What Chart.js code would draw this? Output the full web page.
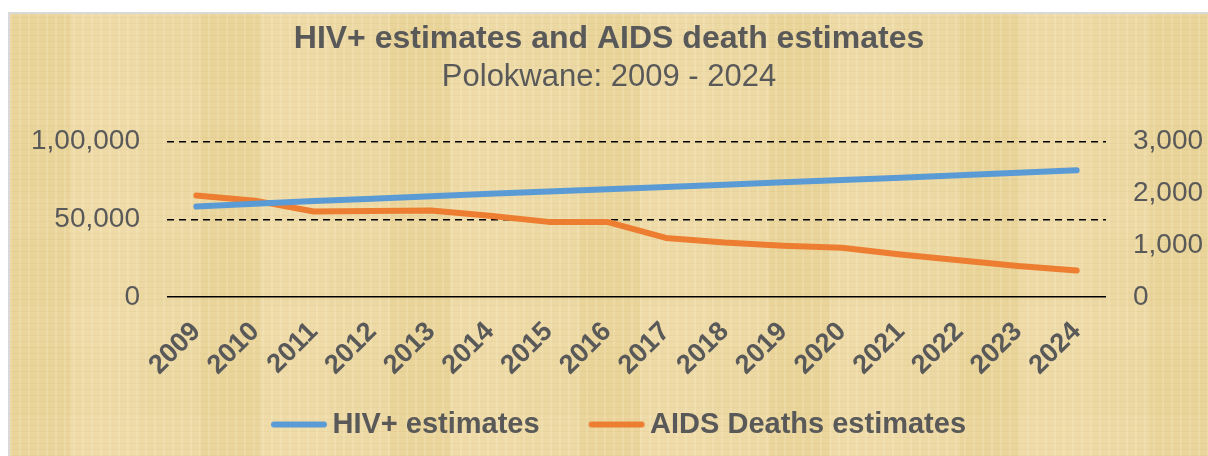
<!DOCTYPE html>
<html>
<head>
<meta charset="utf-8">
<script src="https://cdn.jsdelivr.net/npm/chart.js@4/dist/chart.umd.min.js"></script>
<style>
  html, body { margin: 0; padding: 0; background: #ffffff; }
  #box {
    position: absolute; left: 10px; top: 14px; width: 1198px; height: 442px;
    outline: 2px solid #d9d9d9;
    background-color: #ecd8a2;
    background-image:
      repeating-linear-gradient(90deg, rgba(255,250,225,0.16) 0 2px, rgba(0,0,0,0) 2px 9px),
      repeating-linear-gradient(0deg, rgba(150,115,40,0.06) 0 1px, rgba(0,0,0,0) 1px 6px),
      repeating-linear-gradient(90deg, rgba(210,180,90,0.12) 0 60px, rgba(250,230,190,0.14) 60px 130px, rgba(0,0,0,0) 130px 190px),
      repeating-linear-gradient(0deg, rgba(245,225,180,0.18) 0 40px, rgba(0,0,0,0) 40px 110px);
  }
  canvas { display: block; }
</style>
</head>
<body>
<div id="box"><canvas id="myChart" width="1198" height="442"></canvas></div>
<script>
const years = ['2009','2010','2011','2012','2013','2014','2015','2016','2017','2018','2019','2020','2021','2022','2023','2024'];
const hivEstimates = [58200, 60000, 61700, 63300, 64900, 66400, 67900, 69300, 70800, 72300, 73800, 75300, 76800, 78300, 79900, 81500];
const aidsDeaths = [1960, 1860, 1650, 1660, 1670, 1570, 1450, 1450, 1140, 1050, 990, 950, 820, 710, 600, 510];
const leftTicks = [0, 50000, 100000];
const rightTicks = [0, 1000, 2000, 3000];

const grey = '#595959';
const fam = 'Liberation Sans, Arial, sans-serif';
const blue = '#5b9bd5';
const orange = '#ed7d31';

// indian style grouping: 1,00,000
function indian(n) {
  let s = String(Math.round(n));
  if (s.length <= 3) return s;
  let last3 = s.slice(-3), rest = s.slice(0, -3);
  rest = rest.replace(/\B(?=(\d{2})+(?!\d))/g, ',');
  return rest + ',' + last3;
}

// short thick line used as legend symbol
function legendLine(color) {
  const c = document.createElement('canvas');
  c.width = 58; c.height = 8;
  const g = c.getContext('2d');
  g.strokeStyle = color;
  g.lineWidth = 6;
  g.lineCap = 'round';
  g.beginPath();
  g.moveTo(4, 4);
  g.lineTo(54, 4);
  g.stroke();
  return c;
}

// legend sits a bit right of centre in the original,
// and the rotated year labels need more room than the x box gets
const layoutTweaks = {
  id: 'layoutTweaks',
  afterLayout(chart) {
    chart.legend.left += 14;
    chart.legend.right += 14;
    chart.scales.x.bottom = chart.height;
  }
};

const ctx = document.getElementById('myChart').getContext('2d');

new Chart(ctx, {
  type: 'line',
  data: {
    labels: years,
    datasets: [{
      label: 'HIV+ estimates',
      data: hivEstimates,
      yAxisID: 'y',
      borderColor: blue,
      backgroundColor: blue,
      borderWidth: 6,
      borderCapStyle: 'round',
      borderJoinStyle: 'round',
      pointRadius: 0,
      pointStyle: legendLine(blue),
      tension: 0
    }, {
      label: 'AIDS Deaths estimates',
      data: aidsDeaths,
      yAxisID: 'y1',
      borderColor: orange,
      backgroundColor: orange,
      borderWidth: 6,
      borderCapStyle: 'round',
      borderJoinStyle: 'round',
      pointRadius: 0,
      pointStyle: legendLine(orange),
      tension: 0
    }]
  },
  options: {
    responsive: false,
    animation: false,
    layout: { padding: { left: 0, right: 0, top: 0, bottom: 7 } },
    scales: {
      x: {
        offset: true,
        grid: { display: false },
        border: { display: false },
        ticks: {
          color: grey,
          font: { family: fam, size: 27, weight: 'bold' },
          minRotation: 45,
          maxRotation: 45,
          padding: 11
        },
        afterFit: function(scale) { scale.height = 55; }
      },
      y: {
        position: 'left',
        min: 0,
        max: 100000,
        afterBuildTicks: function(scale) { scale.ticks = leftTicks.map(v => ({ value: v })); },
        grid: {
          color: '#000000',
          lineWidth: 1.5,
          drawTicks: false
        },
        border: {
          display: false,
          dash: function(c) { return c.tick && c.tick.value === 0 ? [] : [7, 5]; }
        },
        ticks: {
          color: grey,
          padding: 27,
          font: { family: fam, size: 28 },
          callback: function(v) { return indian(v); }
        },
        afterFit: function(scale) { scale.width = 157; }
      },
      y1: {
        position: 'right',
        min: 0,
        max: 3000,
        afterBuildTicks: function(scale) { scale.ticks = rightTicks.map(v => ({ value: v })); },
        grid: { display: false, drawTicks: false },
        border: { display: false },
        ticks: {
          color: grey,
          padding: 27,
          font: { family: fam, size: 28 },
          callback: function(v) { return indian(v); }
        },
        afterFit: function(scale) { scale.width = 102; }
      }
    },
    plugins: {
      title: {
        display: true,
        text: 'HIV+ estimates and AIDS death estimates',
        color: grey,
        font: { family: fam, size: 32, weight: 'bold' },
        padding: { top: 6, bottom: 0 }
      },
      subtitle: {
        display: true,
        text: 'Polokwane: 2009 - 2024',
        color: grey,
        font: { family: fam, size: 31 },
        padding: { top: 0, bottom: 46 }
      },
      legend: {
        position: 'bottom',
        labels: {
          color: grey,
          font: { family: fam, size: 29, weight: 'bold' },
          usePointStyle: true,
          pointStyleWidth: 38,
          padding: 58
        }
      },
      tooltip: { enabled: false }
    }
  },
  plugins: [layoutTweaks]
});
</script>
</body>
</html>
